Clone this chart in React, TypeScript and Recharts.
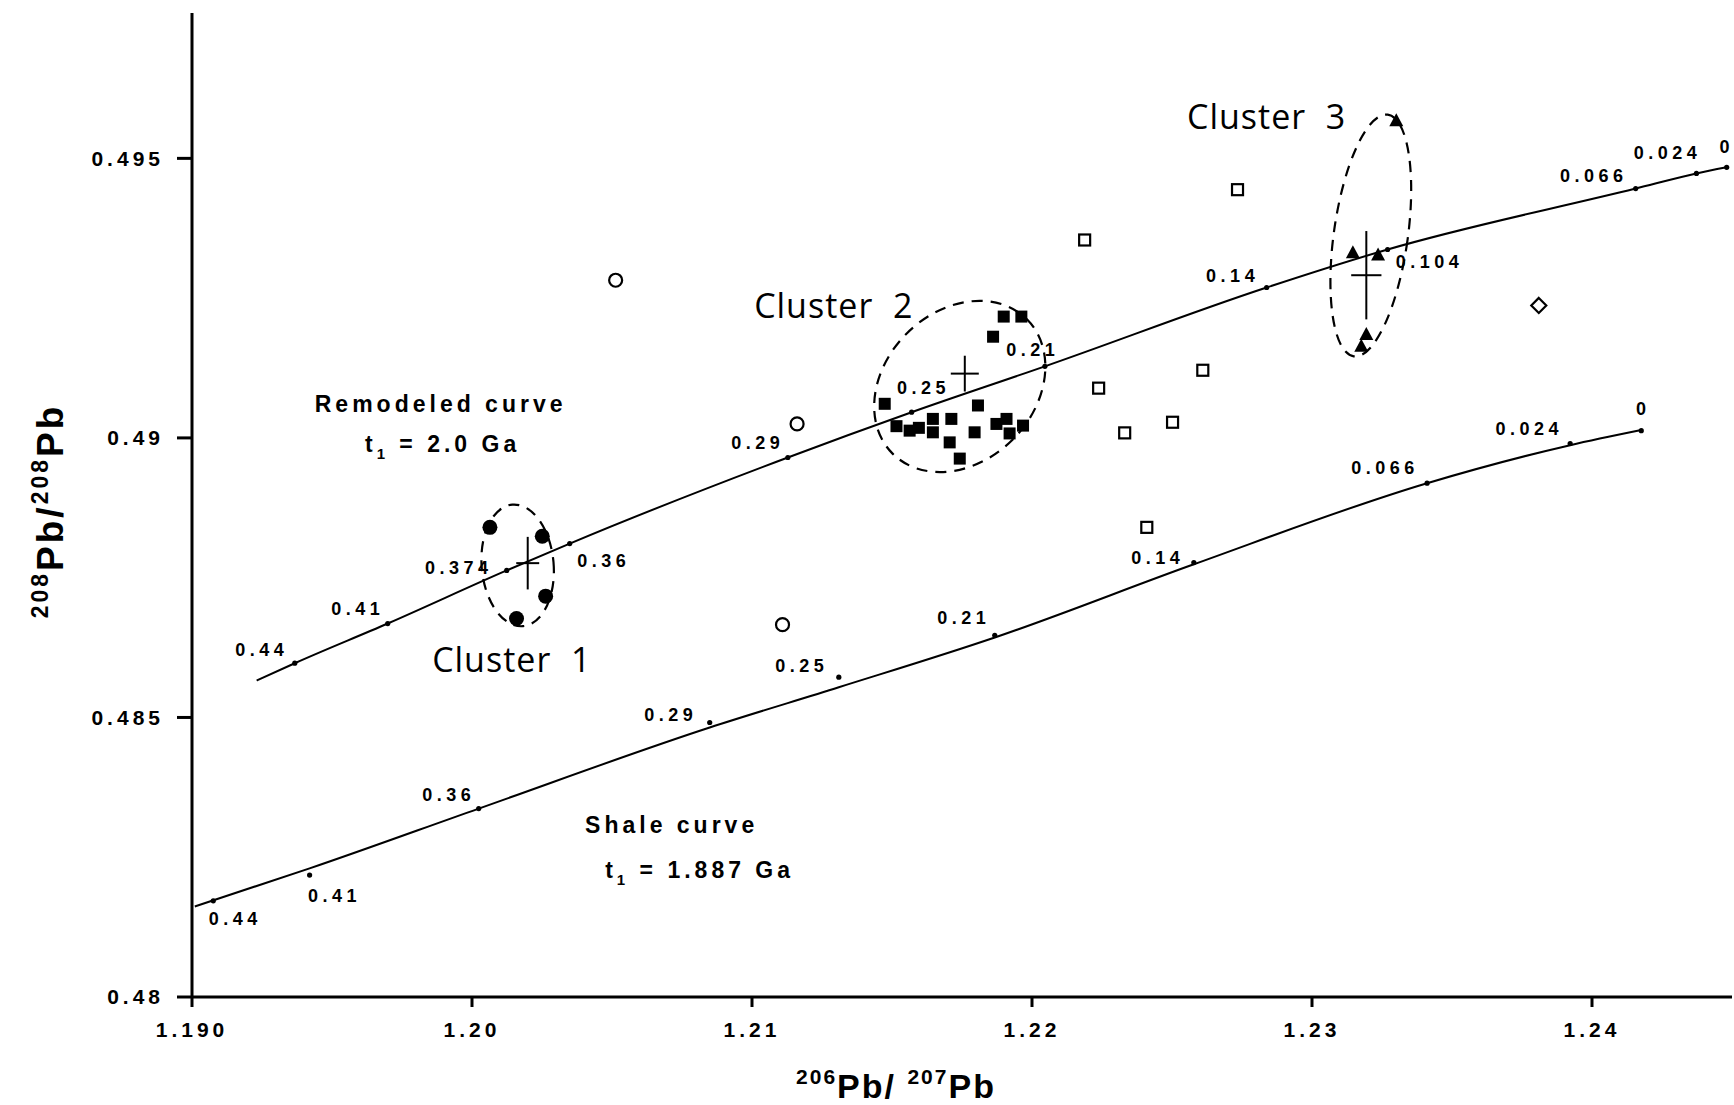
import {
  ComposedChart,
  ErrorBar,
  Line,
  ReferenceDot,
  Scatter,
  XAxis,
  YAxis,
} from 'recharts';

// axis ticks
const xTicks = [1.19, 1.2, 1.21, 1.22, 1.23, 1.24];
const xTickLabels = ['1.190', '1.20', '1.21', '1.22', '1.23', '1.24'];
const yTicks = [0.48, 0.485, 0.49, 0.495];
const yTickLabels = ['0.48', '0.485', '0.49', '0.495'];

// remodeled growth curve (t1 = 2.0 Ga), labelled points are mu-values
const remodeledStart = [{ x: 1.19231, y: 0.48566 }];
const remodeledTicks = [
  { x: 1.19367, y: 0.48597, t: '0.44' },
  { x: 1.19699, y: 0.48668, t: '0.41' },
  { x: 1.20124, y: 0.48763, t: '0.374' },
  { x: 1.20349, y: 0.48811, t: '0.36' },
  { x: 1.21128, y: 0.48965, t: '0.29' },
  { x: 1.2157, y: 0.49046, t: '0.25' },
  { x: 1.22046, y: 0.49128, t: '0.21' },
  { x: 1.22838, y: 0.49269, t: '0.14' },
  { x: 1.2327, y: 0.49337, t: '0.104' },
  { x: 1.24156, y: 0.49446, t: '0.066' },
  { x: 1.24373, y: 0.49473, t: '0.024' },
  { x: 1.24481, y: 0.49484, t: '0' },
];

// shale curve (t1 = 1.887 Ga)
const shaleLine = [
  { x: 1.1901, y: 0.48162 },
  { x: 1.1942, y: 0.4823 },
  { x: 1.20024, y: 0.48337 },
  { x: 1.20849, y: 0.48482 },
  { x: 1.2131, y: 0.48554 },
  { x: 1.21867, y: 0.48643 },
  { x: 1.22578, y: 0.48774 },
  { x: 1.23411, y: 0.48919 },
  { x: 1.23922, y: 0.48987 },
  { x: 1.24176, y: 0.49014 },
];
const shaleTicks = [
  { x: 1.19076, y: 0.48172, t: '0.44' },
  { x: 1.1942, y: 0.48218, t: '0.41' },
  { x: 1.20024, y: 0.48337, t: '0.36' },
  { x: 1.20849, y: 0.48491, t: '0.29' },
  { x: 1.2131, y: 0.48572, t: '0.25' },
  { x: 1.21867, y: 0.48647, t: '0.21' },
  { x: 1.22578, y: 0.48777, t: '0.14' },
  { x: 1.23411, y: 0.48919, t: '0.066' },
  { x: 1.23922, y: 0.4899, t: '0.024' },
  { x: 1.24176, y: 0.49013, t: '0' },
];

// samples
const openCircles = [
  { x: 1.20513, y: 0.49282 },
  { x: 1.21161, y: 0.49025 },
  { x: 1.21109, y: 0.48666 },
];
const openSquares = [
  { x: 1.22188, y: 0.49354 },
  { x: 1.22734, y: 0.49444 },
  { x: 1.22238, y: 0.49089 },
  { x: 1.22331, y: 0.49009 },
  { x: 1.22502, y: 0.49028 },
  { x: 1.2261, y: 0.49121 },
  { x: 1.2241, y: 0.4884 },
];
const openDiamonds = [{ x: 1.2381, y: 0.49237 }];
const cluster1 = [
  { x: 1.20064, y: 0.4884 },
  { x: 1.20251, y: 0.48824 },
  { x: 1.20263, y: 0.48717 },
  { x: 1.20159, y: 0.48677 },
];
const cluster2 = [
  { x: 1.21899, y: 0.49217 },
  { x: 1.21962, y: 0.49217 },
  { x: 1.21861, y: 0.49181 },
  { x: 1.21474, y: 0.49061 },
  { x: 1.21516, y: 0.49021 },
  { x: 1.21563, y: 0.49013 },
  { x: 1.21596, y: 0.49018 },
  { x: 1.21646, y: 0.49034 },
  { x: 1.21646, y: 0.4901 },
  { x: 1.21712, y: 0.49034 },
  { x: 1.21807, y: 0.49058 },
  { x: 1.21795, y: 0.4901 },
  { x: 1.21706, y: 0.48992 },
  { x: 1.21742, y: 0.48963 },
  { x: 1.21873, y: 0.49025 },
  { x: 1.21909, y: 0.49034 },
  { x: 1.2192, y: 0.49008 },
  { x: 1.21968, y: 0.49022 },
];
const cluster3 = [
  { x: 1.23301, y: 0.49568 },
  { x: 1.23146, y: 0.49332 },
  { x: 1.23236, y: 0.49328 },
  { x: 1.23194, y: 0.49186 },
  { x: 1.23176, y: 0.49165 },
];
// cluster means with their spread
const clusterMeans = [
  { x: 1.20199, y: 0.48776, ex: 0.00041, ey: 0.00047 },
  { x: 1.2176, y: 0.49115, ex: 0.0005, ey: 0.00032 },
  { x: 1.23194, y: 0.49291, ex: 0.00054, ey: 0.00079 },
];
const clusterOutlines = [
  { x: 1.20163, y: 0.48772 },
  { x: 1.21742, y: 0.49092 },
  { x: 1.2321, y: 0.49362 },
];
const outlineShape = [
  { rx: 36, ry: 61, rot: -5 },
  { rx: 95, ry: 75, rot: -45 },
  { rx: 37, ry: 122, rot: 8 },
];

const clusterNames = [
  { x: 1.20142, y: 0.48581, text: 'Cluster  1' },
  { x: 1.21292, y: 0.49215, text: 'Cluster  2' },
  { x: 1.22838, y: 0.49553, text: 'Cluster  3' },
];
const curveNames = [
  { x: 1.19888, y: 0.49046, text: 'Remodeled curve', sub: false },
  { x: 1.19895, y: 0.48974, text: '2.0 Ga', sub: true },
  { x: 1.20713, y: 0.48293, text: 'Shale curve', sub: false },
  { x: 1.20813, y: 0.48212, text: '1.887 Ga', sub: true },
];

// label offsets (px) around the curve points
const remodeledOffsets: Record<string, number[]> = {
  '0.44': [-35, -13],
  '0.41': [-32, -15],
  '0.374': [-50, -2],
  '0.36': [32, 17],
  '0.29': [-32, -14],
  '0.25': [10, -24],
  '0.21': [-14, -16],
  '0.14': [-36, -12],
  '0.104': [40, 13],
  '0.066': [-44, -13],
  '0.024': [-31, -20],
  '0': [-2, -20],
};
const shaleOffsets: Record<string, number[]> = {
  '0.44': [20, 18],
  '0.41': [23, 21],
  '0.36': [-32, -14],
  '0.29': [-41, -7],
  '0.25': [-39, -11],
  '0.21': [-33, -17],
  '0.14': [-38, -5],
  '0.066': [-44, -15],
  '0.024': [-43, -15],
  '0': [0, -22],
};

const FONT = '"Liberation Sans", Arial, sans-serif';
const smallLabel = {
  fontFamily: FONT,
  fontWeight: 700,
  fontSize: 18,
  letterSpacing: 4.5,
  fill: '#000',
};

const tickDot = (offsets: Record<string, number[]>) => (p: any) => {
  const [dx, dy] = offsets[p.payload.t] ?? [0, -18];
  return (
    <g>
      <circle cx={p.cx} cy={p.cy} r={2.6} fill="#000" />
      <text
        x={p.cx + dx + 2}
        y={p.cy + dy}
        textAnchor="middle"
        dominantBaseline="central"
        style={smallLabel}
      >
        {p.payload.t}
      </text>
    </g>
  );
};

const filledSquare = (p: any) => (
  <rect x={p.cx - 6} y={p.cy - 6} width={12} height={12} fill="#000" />
);
const filledCircle = (p: any) => (
  <circle cx={p.cx} cy={p.cy} r={7.5} fill="#000" />
);
const filledTriangle = (p: any) => (
  <polygon
    points={`${p.cx},${p.cy - 7} ${p.cx + 7},${p.cy + 6} ${p.cx - 7},${p.cy + 6}`}
    fill="#000"
  />
);
const openCircle = (p: any) => (
  <circle cx={p.cx} cy={p.cy} r={6.5} fill="#fff" stroke="#000" strokeWidth={2.2} />
);
const openSquare = (p: any) => (
  <rect
    x={p.cx - 5.5}
    y={p.cy - 5.5}
    width={11}
    height={11}
    fill="#fff"
    stroke="#000"
    strokeWidth={2.2}
  />
);
const openDiamond = (p: any) => (
  <polygon
    points={`${p.cx},${p.cy - 7.5} ${p.cx + 7.5},${p.cy} ${p.cx},${p.cy + 7.5} ${p.cx - 7.5},${p.cy}`}
    fill="#fff"
    stroke="#000"
    strokeWidth={2.2}
  />
);
const noShape = () => <g />;

const renderXTitle = () => (
  <text
    x={896}
    y={1098}
    textAnchor="middle"
    fill="#000"
    style={{ fontFamily: FONT, fontWeight: 700, letterSpacing: 2 }}
  >
    <tspan fontSize={21} dy={-14}>206</tspan>
    <tspan fontSize={34} dy={14}>Pb/ </tspan>
    <tspan fontSize={21} dy={-14}>207</tspan>
    <tspan fontSize={34} dy={14}>Pb</tspan>
  </text>
);

const renderYTitle = () => (
  <text
    x={63}
    y={511}
    transform="rotate(-90, 63, 511)"
    textAnchor="middle"
    fill="#000"
    style={{ fontFamily: FONT, fontWeight: 700, letterSpacing: 3 }}
  >
    <tspan fontSize={23} dy={-15}>208</tspan>
    <tspan fontSize={37} dy={15}>Pb/</tspan>
    <tspan fontSize={23} dy={-15}>208</tspan>
    <tspan fontSize={37} dy={15}>Pb</tspan>
  </text>
);

const App = () => {
  return (
    <div style={{ position: 'absolute', left: 0, top: 0, background: '#fff' }}>
      <ComposedChart
        width={1734}
        height={1105}
        margin={{ top: 13, right: 2, bottom: 0, left: 0 }}
      >
        <XAxis
          type="number"
          dataKey="x"
          domain={[1.19, 1.245]}
          allowDataOverflow
          ticks={xTicks}
          tickFormatter={(v: number, i: number) => xTickLabels[i] ?? String(v)}
          height={108}
          tickSize={10}
          tickMargin={15}
          axisLine={{ stroke: '#000', strokeWidth: 3 }}
          tickLine={{ stroke: '#000', strokeWidth: 3 }}
          tick={{ fill: '#000', fontSize: 21, fontWeight: 700, fontFamily: FONT, letterSpacing: 4 }}
          label={renderXTitle}
        />
        <YAxis
          type="number"
          dataKey="y"
          domain={[0.48, 0.4976]}
          allowDataOverflow
          ticks={yTicks}
          tickFormatter={(v: number, i: number) => yTickLabels[i] ?? String(v)}
          width={192}
          tickSize={15}
          tickMargin={13}
          axisLine={{ stroke: '#000', strokeWidth: 3 }}
          tickLine={{ stroke: '#000', strokeWidth: 3 }}
          tick={{ fill: '#000', fontSize: 21, fontWeight: 700, fontFamily: FONT, letterSpacing: 4 }}
          label={renderYTitle}
        />

        <Line
          data={[...remodeledStart, ...remodeledTicks]}
          dataKey="y"
          type="monotone"
          stroke="#000"
          strokeWidth={2}
          dot={false}
          isAnimationActive={false}
        />
        <Line
          data={shaleLine}
          dataKey="y"
          type="monotone"
          stroke="#000"
          strokeWidth={2}
          dot={false}
          isAnimationActive={false}
        />
        <Scatter data={remodeledTicks} shape={tickDot(remodeledOffsets)} isAnimationActive={false} />
        <Scatter data={shaleTicks} shape={tickDot(shaleOffsets)} isAnimationActive={false} />

        <Scatter data={openCircles} shape={openCircle} isAnimationActive={false} />
        <Scatter data={openSquares} shape={openSquare} isAnimationActive={false} />
        <Scatter data={openDiamonds} shape={openDiamond} isAnimationActive={false} />
        <Scatter data={cluster1} shape={filledCircle} isAnimationActive={false} />
        <Scatter data={cluster2} shape={filledSquare} isAnimationActive={false} />
        <Scatter data={cluster3} shape={filledTriangle} isAnimationActive={false} />

        <Scatter data={clusterMeans} shape={noShape} isAnimationActive={false}>
          <ErrorBar dataKey="ex" direction="x" width={0} stroke="#000" strokeWidth={2} isAnimationActive={false} />
          <ErrorBar dataKey="ey" direction="y" width={0} stroke="#000" strokeWidth={2} isAnimationActive={false} />
        </Scatter>

        {clusterOutlines.map((c, i) => (
          <ReferenceDot
            key={`outline-${i}`}
            x={c.x}
            y={c.y}
            r={0}
            shape={(p: any) => (
              <ellipse
                cx={p.cx}
                cy={p.cy}
                rx={outlineShape[i].rx}
                ry={outlineShape[i].ry}
                transform={`rotate(${outlineShape[i].rot}, ${p.cx}, ${p.cy})`}
                fill="none"
                stroke="#000"
                strokeWidth={2.2}
                strokeDasharray="11 8"
              />
            )}
          />
        ))}

        {clusterNames.map((c, i) => (
          <ReferenceDot
            key={`cname-${i}`}
            x={c.x}
            y={c.y}
            r={0}
            shape={(p: any) => (
              <text
                x={p.cx}
                y={p.cy}
                textAnchor="middle"
                style={{
                  fontFamily: '"Open Sans", sans-serif',
                  fontSize: 34,
                  fill: '#000',
                  letterSpacing: 1,
                  whiteSpace: 'pre',
                }}
              >
                {c.text}
              </text>
            )}
          />
        ))}

        {curveNames.map((c, i) => (
          <ReferenceDot
            key={`curve-${i}`}
            x={c.x}
            y={c.y}
            r={0}
            shape={(p: any) => (
              <text
                x={p.cx}
                y={p.cy}
                textAnchor="middle"
                style={{
                  fontFamily: FONT,
                  fontWeight: 700,
                  fontSize: 23,
                  fill: '#000',
                  letterSpacing: 4,
                  whiteSpace: 'pre',
                }}
              >
                {c.sub ? (
                  <>
                    <tspan>t</tspan>
                    <tspan fontSize={15} dy={7}>1</tspan>
                    <tspan dy={-7}>{' = '}</tspan>
                    <tspan>{c.text}</tspan>
                  </>
                ) : (
                  c.text
                )}
              </text>
            )}
          />
        ))}
      </ComposedChart>
    </div>
  );
};

export default App;
